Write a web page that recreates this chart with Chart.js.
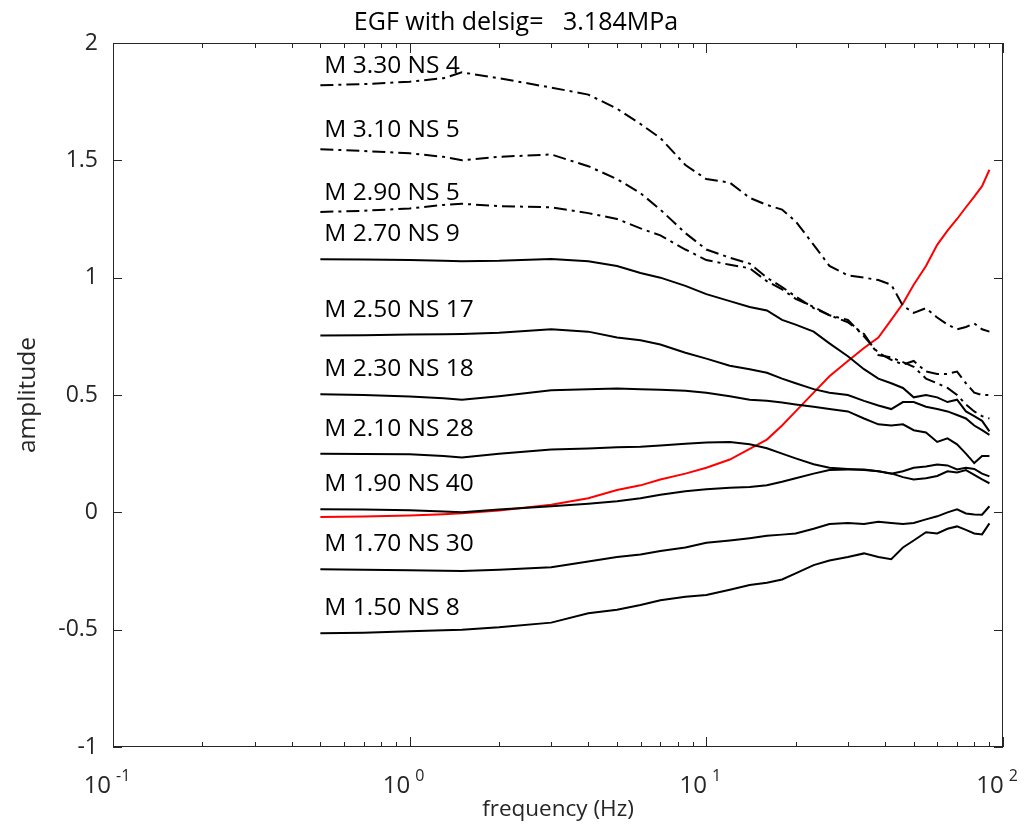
<!DOCTYPE html>
<html>
<head>
<meta charset="utf-8">
<script src="https://cdn.jsdelivr.net/npm/chart.js@4.4.1/dist/chart.umd.min.js"></script>
<style>
  html, body { margin: 0; background: #fff; }
  #wrap { width: 1029px; height: 832px; }
</style>
</head>
<body>
<div id="wrap"><canvas id="egf" width="1029" height="832"></canvas></div>
<script>
// EGF spectra, one curve per magnitude bin, plus the red ratio curve
const freq = [0.5, 0.7, 1, 1.3, 1.5, 2, 3, 4, 5, 6, 7, 8.5, 10, 12, 14, 16, 18, 20, 23, 26,
              30, 34, 38, 42, 46, 50, 55, 60, 65, 70, 75, 80, 85, 90];

const m330 = [1.82, 1.825, 1.835, 1.85, 1.875, 1.85, 1.81, 1.78, 1.72, 1.655, 1.595, 1.48, 1.42, 1.405, 1.34, 1.31, 1.29, 1.24, 1.14, 1.05,
              1.01, 1.0, 0.99, 0.97, 0.88, 0.85, 0.87, 0.83, 0.80, 0.78, 0.79, 0.805, 0.78, 0.77];
const m310 = [1.547, 1.54, 1.53, 1.515, 1.50, 1.515, 1.525, 1.475, 1.42, 1.36, 1.29, 1.19, 1.12, 1.085, 1.06, 1.0, 0.96, 0.92, 0.87, 0.84,
              0.82, 0.75, 0.68, 0.65, 0.63, 0.645, 0.60, 0.59, 0.59, 0.60, 0.55, 0.51, 0.50, 0.50];
const m290 = [1.28, 1.285, 1.295, 1.31, 1.315, 1.305, 1.30, 1.275, 1.25, 1.21, 1.18, 1.12, 1.075, 1.055, 1.04, 0.985, 0.95, 0.91, 0.875, 0.84,
              0.81, 0.76, 0.67, 0.66, 0.64, 0.62, 0.57, 0.55, 0.53, 0.50, 0.46, 0.43, 0.41, 0.40];
const m270 = [1.078, 1.077, 1.075, 1.072, 1.07, 1.072, 1.08, 1.07, 1.05, 1.02, 1.0, 0.965, 0.93, 0.90, 0.875, 0.86, 0.82, 0.80, 0.77, 0.72,
              0.665, 0.61, 0.57, 0.55, 0.53, 0.49, 0.50, 0.49, 0.47, 0.48, 0.43, 0.41, 0.39, 0.345];
const m250 = [0.754, 0.755, 0.758, 0.759, 0.76, 0.765, 0.78, 0.77, 0.745, 0.733, 0.715, 0.68, 0.655, 0.625, 0.61, 0.595, 0.57, 0.55, 0.525, 0.51,
              0.50, 0.475, 0.455, 0.44, 0.47, 0.47, 0.45, 0.44, 0.43, 0.415, 0.40, 0.37, 0.35, 0.33];
const m230 = [0.503, 0.50, 0.494, 0.486, 0.48, 0.495, 0.52, 0.525, 0.528, 0.525, 0.522, 0.518, 0.51, 0.495, 0.48, 0.475, 0.468, 0.46, 0.45, 0.44,
              0.43, 0.40, 0.375, 0.37, 0.375, 0.35, 0.34, 0.30, 0.315, 0.29, 0.25, 0.21, 0.24, 0.24];
const m210 = [0.25, 0.249, 0.247, 0.24, 0.234, 0.25, 0.268, 0.272, 0.277, 0.28, 0.285, 0.292, 0.298, 0.30, 0.29, 0.273, 0.25, 0.23, 0.205, 0.19,
              0.185, 0.18, 0.175, 0.166, 0.15, 0.14, 0.145, 0.155, 0.175, 0.17, 0.18, 0.16, 0.14, 0.124];
const m190 = [0.013, 0.012, 0.009, 0.004, 0.0, 0.012, 0.026, 0.037, 0.047, 0.06, 0.075, 0.09, 0.098, 0.105, 0.108, 0.115, 0.13, 0.145, 0.165, 0.18,
              0.183, 0.183, 0.175, 0.165, 0.175, 0.19, 0.195, 0.204, 0.20, 0.183, 0.19, 0.185, 0.165, 0.153];
const m170 = [-0.243, -0.245, -0.247, -0.249, -0.25, -0.245, -0.234, -0.21, -0.19, -0.18, -0.165, -0.15, -0.13, -0.12, -0.11, -0.10, -0.095, -0.09, -0.07, -0.05,
              -0.045, -0.05, -0.04, -0.045, -0.05, -0.045, -0.03, -0.017, 0.0, 0.013, -0.005, -0.009, -0.01, 0.026];
const m150 = [-0.515, -0.513, -0.507, -0.503, -0.5, -0.49, -0.47, -0.43, -0.415, -0.395, -0.375, -0.36, -0.352, -0.33, -0.31, -0.30, -0.286, -0.26, -0.225, -0.205,
              -0.19, -0.175, -0.19, -0.20, -0.15, -0.12, -0.085, -0.09, -0.07, -0.06, -0.075, -0.09, -0.094, -0.047];
const redCurve = [-0.02, -0.018, -0.013, -0.008, -0.004, 0.008, 0.032, 0.06, 0.095, 0.115, 0.14, 0.165, 0.19, 0.225, 0.27, 0.31, 0.37, 0.43, 0.51, 0.58,
                  0.645, 0.70, 0.745, 0.82, 0.89, 0.97, 1.05, 1.14, 1.20, 1.25, 1.30, 1.345, 1.39, 1.46];

const binLabels = ['M 3.30 NS 4', 'M 3.10 NS 5', 'M 2.90 NS 5', 'M 2.70 NS 9', 'M 2.50 NS 17',
                   'M 2.30 NS 18', 'M 2.10 NS 28', 'M 1.90 NS 40', 'M 1.70 NS 30', 'M 1.50 NS 8'];
const binSeries = [m330, m310, m290, m270, m250, m230, m210, m190, m170, m150];
const dashedBins = 3;   // the three largest bins are dash-dot

const xDecades = [0.1, 1, 10, 100];
const xExponents = ['-1', '0', '1', '2'];
const yTicks = [-1, -0.5, 0, 0.5, 1, 1.5, 2];
const titleText = 'EGF with delsig=   3.184MPa';

const FONT = '"Open Sans", "DejaVu Sans", sans-serif';
const INK = '#262626';

const toPts = vals => freq.map((f, i) => ({ x: f, y: vals[i] }));

const datasets = binSeries.map((vals, i) => ({
  label: binLabels[i],
  data: toPts(vals),
  borderColor: '#000',
  borderWidth: 2,
  borderDash: i < dashedBins ? [13, 5, 3, 5] : [],
  pointRadius: 0,
  tension: 0,
}));
datasets.push({
  label: 'ratio',
  data: toPts(redCurve),
  borderColor: '#ff0000',
  borderWidth: 2,
  pointRadius: 0,
  tension: 0,
});

// MATLAB-ish box: inward ticks on all four sides, 10^n labels, curve labels, title
const matlabAxes = {
  id: 'matlabAxes',
  afterDatasetsDraw(chart) {
    const { ctx, chartArea: a, scales: { x, y } } = chart;
    ctx.save();
    ctx.strokeStyle = INK;
    ctx.lineWidth = 1;
    ctx.strokeRect(a.left + 0.5, a.top + 0.5, a.right - a.left - 1, a.bottom - a.top - 1);

    ctx.beginPath();
    const vtick = (px, len) => {
      const xx = Math.round(px) + 0.5;
      ctx.moveTo(xx, a.bottom); ctx.lineTo(xx, a.bottom - len);
      ctx.moveTo(xx, a.top); ctx.lineTo(xx, a.top + len);
    };
    xDecades.forEach((d, i) => {
      vtick(x.getPixelForValue(d), 10);
      if (i < xDecades.length - 1) {
        for (let k = 2; k <= 9; k++) vtick(x.getPixelForValue(d * k), 5);
      }
    });
    yTicks.forEach(v => {
      const yy = Math.round(y.getPixelForValue(v)) + 0.5;
      ctx.moveTo(a.left, yy); ctx.lineTo(a.left + 9, yy);
      ctx.moveTo(a.right, yy); ctx.lineTo(a.right - 9, yy);
    });
    ctx.stroke();

    // x tick labels as 10 with raised exponent
    ctx.fillStyle = INK;
    ctx.textBaseline = 'alphabetic';
    ctx.textAlign = 'left';
    xDecades.forEach((d, i) => {
      const px = x.getPixelForValue(d);
      ctx.font = '24px ' + FONT;
      const wBase = ctx.measureText('10').width;
      ctx.font = '16px ' + FONT;
      const wExp = ctx.measureText(xExponents[i]).width;
      const x0 = px - (wBase + 5 + wExp) / 2 - 6;
      ctx.font = '24px ' + FONT;
      ctx.fillText('10', x0, 793);
      ctx.font = '16px ' + FONT;
      ctx.fillText(xExponents[i], x0 + wBase + 5, 781);
    });

    // curve labels just above the start of each curve
    ctx.font = '24.5px ' + FONT;
    ctx.fillStyle = '#000';
    binSeries.forEach((vals, i) => {
      const px = x.getPixelForValue(freq[0]) + 4;
      const py = y.getPixelForValue(vals[0]) - (i < dashedBins ? 12 : 18);
      ctx.fillText(binLabels[i], px, py);
    });

    // title, centred on the figure as MATLAB places it here
    ctx.font = '25px ' + FONT;
    ctx.textAlign = 'center';
    ctx.fillText(titleText, 516, 30);
    ctx.restore();
  }
};

new Chart(document.getElementById('egf'), {
  type: 'line',
  data: { datasets },
  plugins: [matlabAxes],
  options: {
    responsive: false,
    devicePixelRatio: 1,
    animation: false,
    layout: { padding: { left: 0, right: 26, top: 43, bottom: 0 } },
    plugins: {
      legend: { display: false },
      tooltip: { enabled: false },
      title: { display: false },
    },
    scales: {
      x: {
        type: 'logarithmic',
        min: 0.1,
        max: 100,
        grid: { display: false },
        border: { display: false },
        ticks: { display: false },
        title: {
          display: true,
          text: 'frequency (Hz)',
          color: INK,
          font: { family: FONT, size: 22.5 },
          padding: { top: 0, bottom: 9 },
        },
        afterFit(scale) { scale.height = 85; },
      },
      y: {
        min: -1,
        max: 2,
        grid: { display: false, drawTicks: false },
        border: { display: false },
        afterBuildTicks(scale) { scale.ticks = yTicks.map(v => ({ value: v })); },
        ticks: {
          color: INK,
          padding: 15,
          font: { family: FONT, size: 23 },
          callback: v => String(v),
        },
        title: {
          display: true,
          text: 'amplitude',
          color: INK,
          font: { family: FONT, size: 24.5 },
          padding: { top: 13, bottom: 0 },
        },
        afterFit(scale) { scale.width = 113; },
      },
    },
  },
});
</script>
</body>
</html>
